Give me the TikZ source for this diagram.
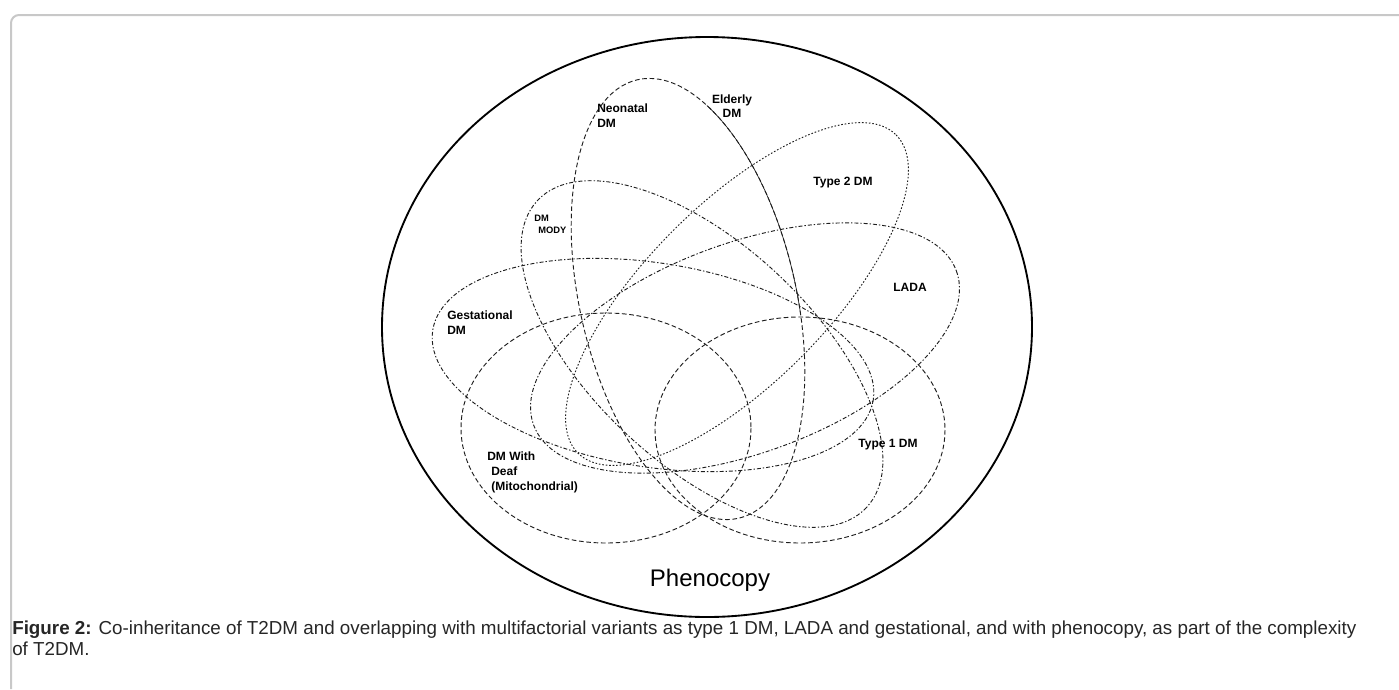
\documentclass[tikz,border=0pt]{standalone}
\usepackage{fontspec}
\setmainfont{Liberation Sans}
\usepackage{tikz}
\usetikzlibrary{positioning}
\definecolor{framegray}{RGB}{200,200,200}
\definecolor{linegray}{RGB}{30,30,30}

\tikzset{
  dashring/.style={draw=linegray, line width=0.7pt, dash pattern=on 3.5pt off 2pt},
  dotring/.style={draw=linegray, line width=0.7pt, dash pattern=on 1.2pt off 1.4pt},
  mixring/.style={draw=linegray, line width=0.7pt, dash pattern=on 3pt off 1.5pt on 1pt off 1.5pt},
  thinring/.style={draw=linegray, line width=0.5pt},
  tag/.style={font=\fontsize{9}{10.9}\selectfont\bfseries, inner sep=0pt, align=left},
}

\begin{document}
\begin{tikzpicture}[x=0.75pt, y=-0.75pt]
\useasboundingbox (0,0) rectangle (1399,689);

% Frame
\draw[framegray, line width=1.5pt, rounded corners=6pt] (11,689) -- (11,15) -- (1399,15);

% Phenocopy ring
\draw[line width=1.4pt] (707,327) ellipse [x radius=325, y radius=290];

% Tilted ellipses
\draw[dashring, rotate around={13:(688,299)}] (688,299) ellipse [x radius=108, y radius=225];
\draw[thinring, rotate around={13:(688,299)}] (749.95,114.69) arc [start angle=-55, end angle=10, x radius=108, y radius=225];
\draw[mixring, rotate around={-43:(702,354)}] (702,354) ellipse [x radius=225, y radius=110];
\draw[mixring, rotate around={-9:(653,365)}] (653,365) ellipse [x radius=223, y radius=102];
\draw[mixring, rotate around={20:(745,348)}] (745,348) ellipse [x radius=225, y radius=105];
\draw[dotring, rotate around={45:(737,294)}] (737,294) ellipse [x radius=225, y radius=90];

% Lower ellipses
\draw[dashring] (606,428) ellipse [x radius=145, y radius=115];
\draw[dashring] (800,430) ellipse [x radius=145, y radius=113];

% Labels
\node[tag, anchor=north west] (neonatal) at (597,104) {Neonatal\\DM};
\node[tag, align=center] (elderly) at (732,106) {Elderly\\DM};
\node[tag] (typetwo) at (843,183) {Type 2 DM};
\node[tag, anchor=north west, font=\fontsize{7}{9}\selectfont\bfseries] (mody) at (534,215) {DM\\\hspace*{3pt}MODY};
\node[tag] (lada) at (910,287) {LADA};
\node[tag, anchor=north west] (gestational) at (447,311) {Gestational\\DM};
\node[tag, anchor=north west] (deaf) at (487,452) {DM With\\\hspace*{3pt}Deaf\\\hspace*{3pt}(Mitochondrial)};
\node[tag] (typeone) at (888,445) {Type 1 DM};
\node[font=\fontsize{18}{20}\selectfont, inner sep=0pt] (phenocopy) at (710,580) {Phenocopy};

% Caption
\node[anchor=north west, inner sep=0pt, align=left, text=black!85, font=\fontsize{14.1}{15.75}\selectfont] (caption) at (12,621)
  {\textbf{Figure 2:} Co-inheritance of T2DM and overlapping with multifactorial variants as type 1 DM, LADA and gestational, and with phenocopy, as part of the complexity\\of T2DM.};

\end{tikzpicture}
\end{document}
